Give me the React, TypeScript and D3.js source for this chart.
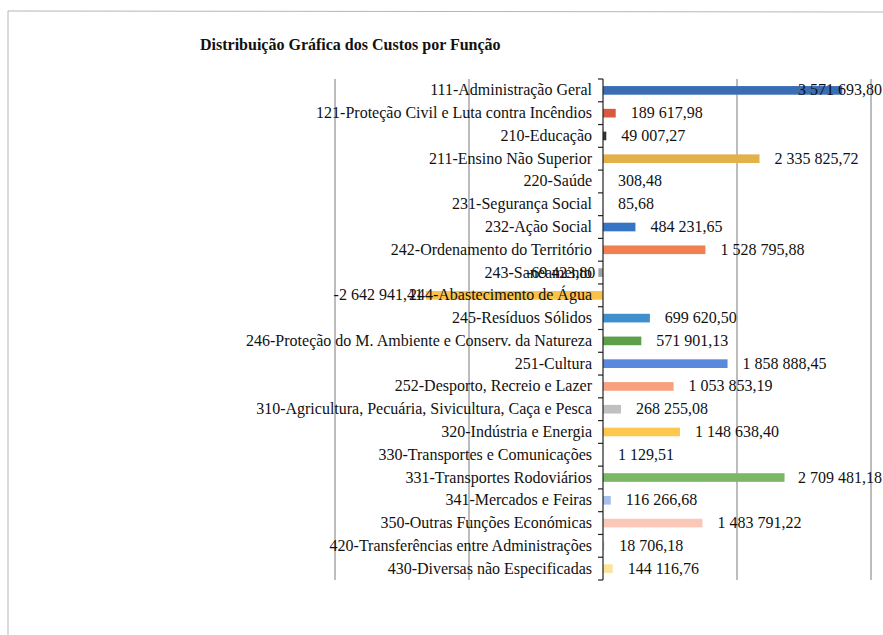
import React, { useEffect, useRef } from 'react';
import * as d3 from 'd3';

const categories = [
	'111-Administração Geral',
	'121-Proteção Civil e Luta contra Incêndios',
	'210-Educação',
	'211-Ensino Não Superior',
	'220-Saúde',
	'231-Segurança Social',
	'232-Ação Social',
	'242-Ordenamento do Território',
	'243-Saneamento',
	'244-Abastecimento de Água',
	'245-Resíduos Sólidos',
	'246-Proteção do M. Ambiente e Conserv. da Natureza',
	'251-Cultura',
	'252-Desporto, Recreio e Lazer',
	'310-Agricultura, Pecuária, Sivicultura, Caça e Pesca',
	'320-Indústria e Energia',
	'330-Transportes e Comunicações',
	'331-Transportes Rodoviários',
	'341-Mercados e Feiras',
	'350-Outras Funções Económicas',
	'420-Transferências entre Administrações',
	'430-Diversas não Especificadas',
];

const values = [
	3571693.80, 189617.98, 49007.27, 2335825.72, 308.48, 85.68, 484231.65,
	1528795.88, -69423.80, -2642941.41, 699620.50, 571901.13, 1858888.45,
	1053853.19, 268255.08, 1148638.40, 1129.51, 2709481.18, 116266.68,
	1483791.22, 18706.18, 144116.76,
];

const barColors = [
	'#3b6db5', '#d8593f', '#333333', '#e2b14a', '#5b9bd5', '#70ad47', '#3874c4',
	'#f08050', '#a0a0a0', '#fbc24a', '#3e8fcc', '#5ea04a', '#5a88dc', '#f8a080',
	'#c0c0c0', '#fcc84e', '#7cafdd', '#7ab866', '#a8c0ea', '#f9c8b8', '#cfcfcf',
	'#fbe39a',
];

const gridTicks = [-4000000, -2000000, 0, 2000000, 4000000];

const title = 'Distribuição Gráfica dos Custos por Função';

const ptFormat = d3.formatLocale({ decimal: ',', thousands: ' ', grouping: [3], currency: ['', ''], minus: '-' }).format(',.2f');

const serif = '"Liberation Serif", "Times New Roman", serif';

export default function App() {
	const svgRef = useRef<SVGSVGElement>(null);

	useEffect(() => {
		const svg = d3.select(svgRef.current);
		svg.selectAll('*').remove();

		const top = 79, bottom = 580;
		const x = d3.scaleLinear().domain([-4000000, 4000000]).range([335, 871]);
		const y = d3.scaleBand<string>().domain(categories).range([top, bottom])
		            .paddingInner(0.62).paddingOuter(0.31);
		const step = y.step();

		// page border of the scan
		svg.append('line').attr('x1', 8).attr('x2', 883).attr('y1', 11).attr('y2', 12)
		   .attr('stroke', '#b5b5b5').attr('stroke-width', 1);
		svg.append('line').attr('x1', 8).attr('x2', 8).attr('y1', 11).attr('y2', 635)
		   .attr('stroke', '#b5b5b5').attr('stroke-width', 1);

		svg.append('text').attr('x', 200).attr('y', 50)
		   .attr('font-family', serif)
		   .attr('font-weight', 'bold').attr('font-size', 16).attr('fill', '#111')
		   .text(title);

		// grid lines
		svg.append('g').selectAll('line')
		   .data(gridTicks.filter(t => t !== 0))
		   .enter().append('line')
		   .attr('x1', d => x(d)).attr('x2', d => x(d))
		   .attr('y1', top).attr('y2', bottom)
		   .attr('stroke', '#7a7a7a').attr('stroke-width', 1);

		// bars
		svg.append('g').selectAll('rect')
		   .data(values)
		   .enter().append('rect')
		   .attr('x', d => Math.min(x(0), x(d)))
		   .attr('width', d => Math.abs(x(d) - x(0)))
		   .attr('y', (d, i) => y(categories[i])!)
		   .attr('height', y.bandwidth())
		   .attr('fill', (d, i) => barColors[i]);

		// category labels
		svg.append('g').selectAll('text')
		   .data(categories)
		   .enter().append('text')
		   .attr('x', x(0) - 11)
		   .attr('y', d => y(d)! + y.bandwidth() / 2 + 5)
		   .attr('text-anchor', 'end')
		   .attr('font-family', serif)
		   .attr('font-size', 16).attr('fill', '#111')
		   .text(d => d);

		// value labels
		svg.append('g').selectAll('text')
		   .data(values)
		   .enter().append('text')
		   .each(function (d, i) {
		   	const label = ptFormat(d);
		   	const yy = y(categories[i])! + y.bandwidth() / 2 + 5;
		   	let xx = d >= 0 ? x(d) + 15 : x(d) - 3;
		   	let anchor = d >= 0 ? 'start' : 'end';
		   	if (d >= 0 && xx + label.length * 7.8 > 883) { xx = 882; anchor = 'end'; }
		   	d3.select(this)
		   	  .attr('x', xx).attr('y', yy).attr('text-anchor', anchor)
		   	  .attr('font-family', serif)
		   	  .attr('font-size', 16).attr('fill', '#111')
		   	  .text(label);
		   });

		// vertical axis with tick marks at category boundaries
		const axisG = svg.append('g');
		axisG.append('line').attr('x1', x(0)).attr('x2', x(0)).attr('y1', top).attr('y2', bottom)
		     .attr('stroke', '#222').attr('stroke-width', 1.2);
		axisG.selectAll('line.tick')
		     .data(d3.range(categories.length + 1))
		     .enter().append('line')
		     .attr('class', 'tick')
		     .attr('x1', x(0) - 5).attr('x2', x(0))
		     .attr('y1', i => top + i * step).attr('y2', i => top + i * step)
		     .attr('stroke', '#222').attr('stroke-width', 1.2);
	}, []);

	return (
		<svg ref={svgRef} width={883} height={635}
		     style={{ position: 'absolute', left: 0, top: 0, background: '#fff' }} />
	);
}
